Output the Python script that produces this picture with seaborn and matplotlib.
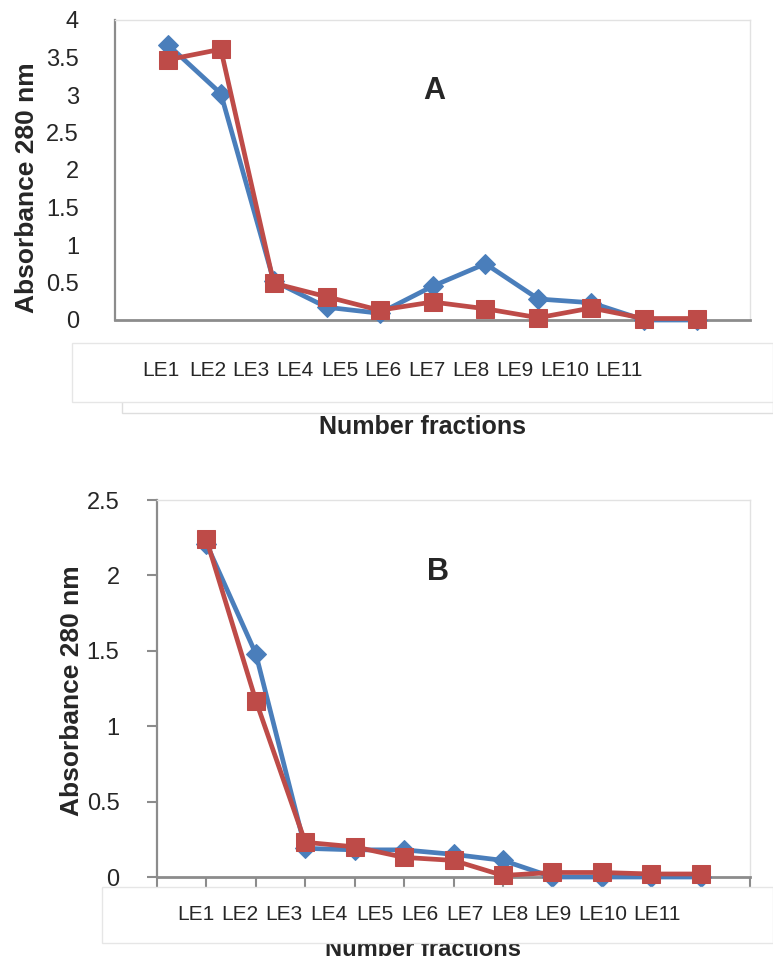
import numpy as np
import pandas as pd
import matplotlib
matplotlib.use('Agg')
import matplotlib.pyplot as plt
import seaborn as sns
from matplotlib.patches import Rectangle

# fractions and absorbance readings (280 nm)
fractions = ['LE1', 'LE2', 'LE3', 'LE4', 'LE5', 'LE6', 'LE7', 'LE8', 'LE9', 'LE10', 'LE11']
a_blue = [3.67, 3.02, 0.52, 0.17, 0.09, 0.45, 0.75, 0.28, 0.23, 0.0, 0.0]
a_red = [3.47, 3.61, 0.49, 0.31, 0.13, 0.24, 0.15, 0.03, 0.16, 0.02, 0.02]
b_blue = [2.21, 1.48, 0.19, 0.18, 0.18, 0.15, 0.11, 0.0, 0.0, 0.0, 0.0]
b_red = [2.24, 1.17, 0.23, 0.20, 0.13, 0.11, 0.01, 0.03, 0.03, 0.02, 0.02]

sns.set_theme(style='white')
plt.rcParams['font.family'] = ['Liberation Sans', 'DejaVu Sans']

W, H = 773, 961
BLUE = '#4a7ebb'
RED = '#be4b48'


def fx(x):
    return x / W


def fy(y):
    return 1 - y / H


fig = plt.figure(figsize=(W / 100, H / 100), dpi=100)
fig.patch.set_facecolor('white')

axA = fig.add_axes([fx(115), fy(320), (750 - 115) / W, (320 - 20) / H])
axB = fig.add_axes([fx(157), fy(877), (750 - 157) / W, (877 - 500) / H])

pos = np.arange(1, len(fractions) + 1)


def draw_panel(ax, blue, red, ymax, tick_size):
    df = pd.DataFrame({'pos': pos, 'blue': blue, 'red': red})
    sns.lineplot(data=df, x='pos', y='blue', ax=ax, color=BLUE, lw=3.4,
                 marker='D', markersize=10.5, markeredgecolor=BLUE, zorder=3)
    sns.lineplot(data=df, x='pos', y='red', ax=ax, color=RED, lw=3.4,
                 marker='s', markersize=12.5, markeredgecolor=RED, zorder=4)
    ax.set_xlim(0, 12)
    ax.set_ylim(0, ymax)
    ticks = np.arange(0, ymax + 0.01, 0.5)
    ax.set_yticks(ticks)
    ax.set_yticklabels([f'{v:g}' for v in ticks], fontsize=tick_size)
    ax.set_xlabel('')
    ax.set_ylabel('')
    ax.set_facecolor('white')
    for s in ['top', 'right']:
        ax.spines[s].set_color('#e2e2e2')
        ax.spines[s].set_linewidth(1)
    ax.spines['left'].set_color('#8c8c8c')
    ax.spines['left'].set_linewidth(1.6)
    ax.spines['bottom'].set_color('#8c8c8c')
    ax.spines['bottom'].set_linewidth(2)
    for line in ax.lines:
        line.set_clip_on(False)


# --- panel A ---
draw_panel(axA, a_blue, a_red, 4, 17)
axA.set_xticks([])
axA.tick_params(axis='y', length=0, pad=26)

# --- panel B ---
draw_panel(axB, b_blue, b_red, 2.5, 17)
axB.set_xticks(np.arange(0, 13))
axB.set_xticklabels([])
axB.tick_params(axis='x', length=8, width=1.5, color='#8c8c8c', direction='out', bottom=True)
axB.tick_params(axis='y', length=7, width=1.5, color='#8c8c8c', direction='out', left=True, pad=20)

# panel letters
fig.text(fx(434), fy(91), 'A', fontsize=22, fontweight='bold', ha='center', va='center')
fig.text(fx(438), fy(572), 'B', fontsize=22, fontweight='bold', ha='center', va='center')

# y axis titles
fig.text(fx(27), fy(188), 'Absorbance 280 nm', rotation=90, fontsize=19,
         fontweight='bold', ha='center', va='center')
fig.text(fx(72), fy(691), 'Absorbance 280 nm', rotation=90, fontsize=19,
         fontweight='bold', ha='center', va='center')

# label boxes under each panel
fig.add_artist(Rectangle((fx(122), fy(413)), (W - 122) / W, (413 - 350) / H, transform=fig.transFigure,
                         facecolor='white', edgecolor='#dedede', lw=1))
fig.add_artist(Rectangle((fx(72), fy(402)), (W - 72) / W, (402 - 343) / H, transform=fig.transFigure,
                         facecolor='white', edgecolor='#e6e6e6', lw=1))
fig.add_artist(Rectangle((fx(102), fy(943)), (W - 102) / W, (943 - 887) / H, transform=fig.transFigure,
                         facecolor='white', edgecolor='#e6e6e6', lw=1))

# fraction labels (pasted below the axes, not aligned with the points)
starts_a = [142, 189, 232, 276, 321, 364, 408, 452, 496, 540, 595]
starts_b = [177, 221, 265, 310, 356, 401, 446, 491, 534, 578, 633]
for name, xa, xb in zip(fractions, starts_a, starts_b):
    fig.text(fx(xa), fy(370), name, fontsize=15, ha='left', va='center')
    fig.text(fx(xb), fy(915), name, fontsize=15, ha='left', va='center')

fig.text(fx(423), fy(427), 'Number fractions', fontsize=18, fontweight='bold', ha='center', va='center')
fig.text(fx(423), fy(950), 'Number fractions', fontsize=17, fontweight='bold', ha='center', va='center',
         zorder=0.5)

plt.savefig('out.png', dpi=100, facecolor='white')
plt.close()
